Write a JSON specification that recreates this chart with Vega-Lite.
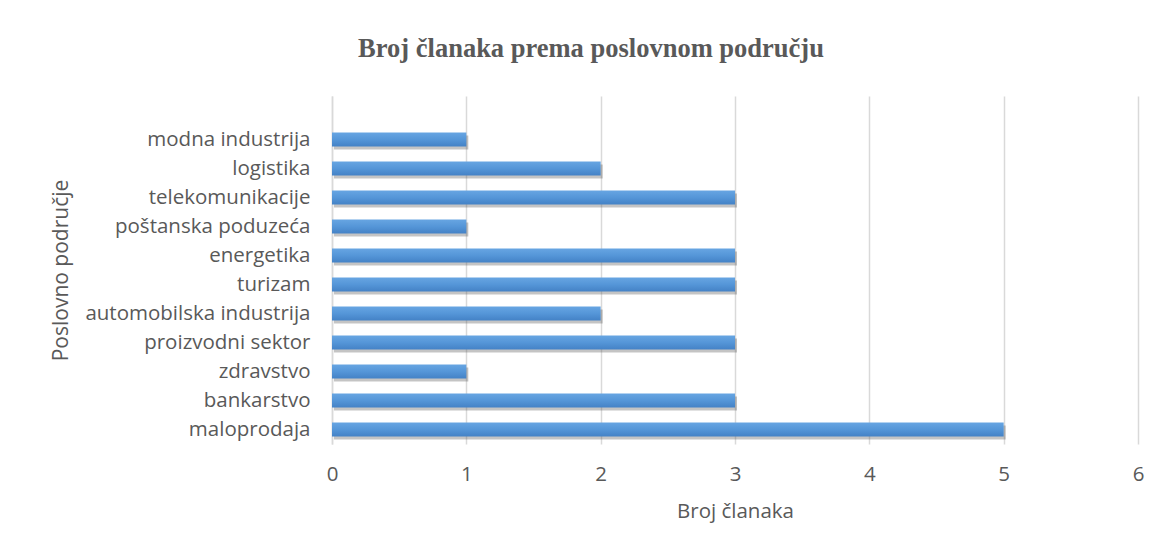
{
  "$schema": "https://vega.github.io/schema/vega-lite/v6.json",
  "width": 806,
  "height": 348,
  "autosize": {"type": "none"},
  "padding": {"left": 332, "top": 96, "right": 25, "bottom": 110},
  "background": "white",
  "title": {
    "text": "Broj članaka prema poslovnom području",
    "font": "Liberation Serif",
    "fontSize": 26.5,
    "fontWeight": "bold",
    "color": "#595959",
    "anchor": "middle",
    "dx": -144,
    "offset": 34
  },
  "data": {
    "values": [
      {"podrucje": "modna industrija", "broj": 1},
      {"podrucje": "logistika", "broj": 2},
      {"podrucje": "telekomunikacije", "broj": 3},
      {"podrucje": "poštanska poduzeća", "broj": 1},
      {"podrucje": "energetika", "broj": 3},
      {"podrucje": "turizam", "broj": 3},
      {"podrucje": "automobilska industrija", "broj": 2},
      {"podrucje": "proizvodni sektor", "broj": 3},
      {"podrucje": "zdravstvo", "broj": 1},
      {"podrucje": "bankarstvo", "broj": 3},
      {"podrucje": "maloprodaja", "broj": 5}
    ]
  },
  "encoding": {
    "y": {
      "field": "podrucje",
      "type": "nominal",
      "title": "Poslovno područje",
      "scale": {
        "domain": [" ", "modna industrija", "logistika", "telekomunikacije", "poštanska poduzeća", "energetika", "turizam", "automobilska industrija", "proizvodni sektor", "zdravstvo", "bankarstvo", "maloprodaja"],
        "paddingInner": 0.52,
        "paddingOuter": 0.26
      },
      "axis": {
        "ticks": false,
        "domain": true,
        "domainColor": "#d9d9d9",
        "domainWidth": 1.5,
        "labelFont": "Open Sans",
        "labelFontSize": 20.5,
        "labelColor": "#595959",
        "labelPadding": 22,
        "labelLimit": 400,
        "titleFont": "Open Sans",
        "titleFontSize": 21,
        "titleFontWeight": "normal",
        "titleColor": "#595959",
        "titlePadding": 61
      }
    },
    "x": {
      "field": "broj",
      "type": "quantitative",
      "title": "Broj članaka",
      "scale": {"domain": [0, 6], "nice": false},
      "axis": {
        "values": [0, 1, 2, 3, 4, 5, 6],
        "ticks": false,
        "domain": false,
        "grid": true,
        "gridColor": "#d9d9d9",
        "gridWidth": 1.5,
        "labelFlush": false,
        "labelFont": "Open Sans",
        "labelFontSize": 20.5,
        "labelColor": "#595959",
        "labelPadding": 20,
        "titleFont": "Open Sans",
        "titleFontSize": 20.5,
        "titleFontWeight": "normal",
        "titleColor": "#595959",
        "titlePadding": 17
      }
    }
  },
  "layer": [
    {
      "mark": {"type": "bar", "color": "#555555", "opacity": 0.35, "xOffset": 2, "yOffset": 3}
    },
    {
      "mark": {
        "type": "bar",
        "color": {
          "gradient": "linear",
          "x1": 0, "y1": 0, "x2": 0, "y2": 1,
          "stops": [
            {"offset": 0, "color": "#67a5e2"},
            {"offset": 0.5, "color": "#5596d8"},
            {"offset": 1, "color": "#4482c6"}
          ]
        }
      }
    }
  ],
  "config": {"view": {"stroke": null}}
}
